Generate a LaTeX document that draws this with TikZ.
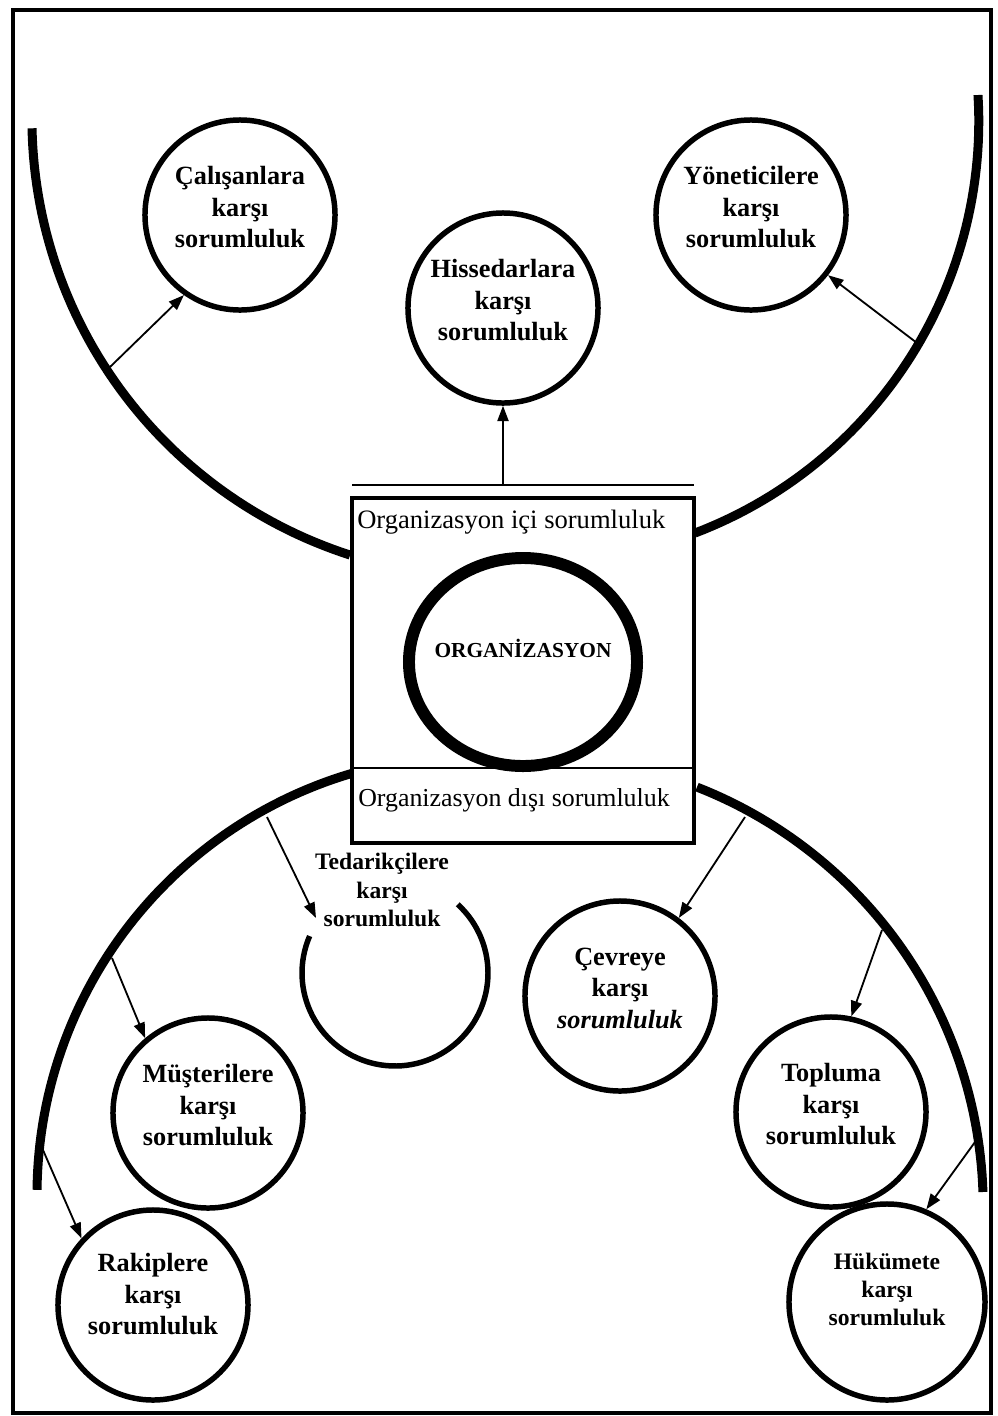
\documentclass[tikz,border=0pt]{standalone}
\usepackage{fontspec}
\setmainfont{Liberation Serif}
\usetikzlibrary{arrows.meta, shapes.geometric}

\begin{document}
\begin{tikzpicture}[x=0.025cm, y=-0.025cm,
    bubble/.style={circle, draw, line width=3.9pt, minimum size=4.75cm, inner sep=0pt,
        align=center, text depth=11.4pt, font=\fontsize{18.7}{22.4}\selectfont\bfseries},
    bigarc/.style={line width=6.4pt},
    thinline/.style={line width=1.4pt},
    boxtext/.style={anchor=base west, inner sep=0pt},
    link/.style={-{Triangle[length=11pt,width=8pt]}, line width=1.3pt}]

    \useasboundingbox (0,0) rectangle (998,1416);

    % Outer frame
    \draw[line width=2.8pt] (13,10) rectangle (991,1413);

    % Four big arcs
    \draw[bigarc] plot[domain=107.8:178.8, samples=60] ({490.2+458.3*cos(\x)}, {118.7+458.3*sin(\x)});
    \draw[bigarc] plot[domain=-3.45:69.2, samples=60] ({538.5+440.3*cos(\x)}, {121.5+440.3*sin(\x)});
    \draw[bigarc] plot[domain=180.6:253.7, samples=60] ({476+439*cos(\x)}, {1194.4+439*sin(\x)});
    \draw[bigarc] plot[domain=-68.6:-1.86, samples=60] ({532.6+450.6*cos(\x)}, {1206.6+450.6*sin(\x)});

    % Centre box
    \draw[line width=2.8pt, fill=white] (352,498) rectangle (694,843);
    \draw[thinline] (352,485) -- (694,485);
    \draw[thinline] (352,768) -- (694,768);
    \node[boxtext, font=\fontsize{18.9}{22}\selectfont] (icin) at (357,528) {Organizasyon içi sorumluluk};
    \node[boxtext, font=\fontsize{18.4}{22}\selectfont] (disin) at (358,806) {Organizasyon dışı sorumluluk};

    % Organisation ring
    \node[ellipse, draw, line width=8.5pt, minimum width=5.7cm, minimum height=5.2cm] (org) at (523,662) {};
    \node[font=\fontsize{15.2}{18}\selectfont\bfseries] (orgtext) at (523,648) {ORGANİZASYON};

    % Inside responsibilities
    \node[bubble] (cal) at (240,215) {Çalışanlara\\karşı\\sorumluluk};
    \node[bubble] (his) at (503,308) {Hissedarlara\\karşı\\sorumluluk};
    \node[bubble] (yon) at (751,215) {Yöneticilere\\karşı\\sorumluluk};

    % Outside responsibilities
    \node[align=center, font=\fontsize{16.8}{20}\selectfont\bfseries] (ted) at (382,890) {Tedarikçilere\\karşı\\sorumluluk};
    \draw[line width=3.9pt] plot[domain=-47.6:203.4, samples=80] ({395+93*cos(\x)}, {973+93*sin(\x)});
    \node[bubble] (cev) at (620,996) {Çevreye\\karşı\\\textit{sorumluluk}};
    \node[bubble] (mus) at (208,1113) {Müşterilere\\karşı\\sorumluluk};
    \node[bubble] (toplum) at (831,1112) {Topluma\\karşı\\sorumluluk};
    \node[bubble, text depth=15.6pt] (rak) at (153,1305) {Rakiplere\\karşı\\sorumluluk};
    \node[bubble, minimum size=4.9cm, text depth=18.5pt, font=\fontsize{16.8}{20}\selectfont\bfseries] (huk) at (887,1302) {Hükümete\\karşı\\sorumluluk};

    % Arrow starts on the arcs
    \coordinate (a1) at (110,367);
    \coordinate (a2) at (917,343);
    \coordinate (a3) at (503,485);
    \coordinate (a4) at (267,817);
    \coordinate (a5) at (112,958);
    \coordinate (a6) at (43,1150);
    \coordinate (a7) at (745,817);
    \coordinate (a8) at (882,930);
    \coordinate (a9) at (975,1142);
    \coordinate (tedtip) at (316,918);

    % Arrows
    \draw[link] (a1) -- (cal.235);
    \draw[link] (a2) -- (yon.322);
    \draw[link] (a3) -- (his);
    \draw[link] (a4) -- (tedtip);
    \draw[link] (a5) -- (mus.130);
    \draw[link] (a6) -- (rak.137);
    \draw[link] (a7) -- (cev.53);
    \draw[link] (a8) -- (toplum.78);
    \draw[link] (a9) -- (huk.67);
\end{tikzpicture}
\end{document}
